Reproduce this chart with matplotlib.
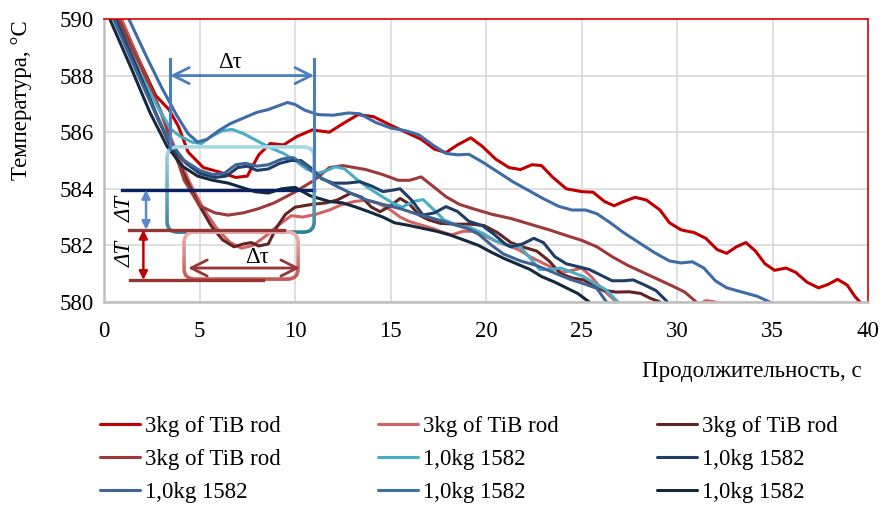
import matplotlib.pyplot as plt
from matplotlib.patches import FancyBboxPatch, Rectangle
import matplotlib.colors as mcolors
import numpy as np

plt.rcParams['font.family'] = ['Liberation Serif', 'DejaVu Serif']
plt.rcParams['font.size'] = 16.5

# --- data (time, s ; temperature, °C) ---
t1 = [0.9, 1.8, 2.7, 3.4, 3.9, 4.4, 5.2, 6.0, 6.9, 7.5, 8.1, 8.7, 9.4, 10.1, 10.9, 11.8, 12.5, 13.3, 14.1,
      15.0, 15.8, 16.6, 17.3, 17.9, 18.5, 19.2, 19.8, 20.5, 21.2, 21.8, 22.4, 22.9, 23.5, 24.2, 25.0, 25.6,
      26.2, 26.7, 27.2, 27.8, 28.4, 29.1, 29.6, 30.2, 30.9, 31.5, 32.1, 32.6, 33.1, 33.6, 34.1, 34.6, 35.1,
      35.7, 36.2, 36.8, 37.4, 37.9, 38.4, 38.9, 39.3, 39.7]
T1 = [590, 588.6, 587.3, 586.8, 586.2, 585.3, 584.75, 584.6, 584.4, 584.45, 585.2, 585.6, 585.55, 585.85,
      586.08, 586.0, 586.3, 586.62, 586.55, 586.25, 586.0, 585.75, 585.4, 585.28, 585.55, 585.8, 585.5,
      585.05, 584.75, 584.68, 584.85, 584.82, 584.4, 584.0, 583.9, 583.88, 583.55, 583.4, 583.55, 583.7,
      583.6, 583.25, 582.8, 582.55, 582.45, 582.25, 581.85, 581.72, 581.95, 582.1, 581.8, 581.35, 581.12,
      581.2, 581.05, 580.7, 580.5, 580.62, 580.8, 580.6, 580.2, 579.9]

t2 = [0.9, 1.9, 2.9, 3.8, 4.5, 5.2, 5.9, 6.6, 7.2, 7.8, 8.5, 9.2, 9.8, 10.4, 11.1, 11.8, 12.4, 13.1, 13.75,
      14.3, 14.9, 15.5, 16.0, 16.6, 17.2, 17.8, 18.2, 18.8, 19.3, 19.9, 20.5, 21.1, 21.7, 22.3, 22.9, 23.5,
      24.0, 24.6, 25.0, 25.5, 26.0, 26.5, 27.0, 28.0, 29.5, 30.8, 31.5, 32.0, 32.6]
T2 = [590, 588.4, 586.8, 585.3, 584.2, 583.3, 582.6, 582.1, 581.9, 582.0, 582.35, 582.75, 583.05, 583.0,
      583.1, 583.25, 583.43, 583.55, 583.6, 583.5, 583.3, 583.0, 582.84, 582.72, 582.6, 582.45, 582.37,
      582.5, 582.5, 582.35, 582.15, 582.0, 581.85, 581.6, 581.4, 581.2, 581.05, 581.13, 581.2, 580.9,
      580.5, 580.2, 579.9, 579.7, 579.6, 579.75, 580.05, 580.0, 579.7]

t3 = [0.7, 1.8, 2.8, 3.7, 4.4, 5.0, 5.6, 6.2, 6.8, 7.3, 7.7, 8.1, 8.6, 9.0, 9.5, 10.0, 10.9, 11.6, 12.2,
      12.9, 13.5, 14.0, 14.45, 15.0, 15.5, 16.0, 16.5, 17.0, 17.6, 18.4, 19.2, 19.9, 20.6, 21.3, 21.9,
      22.65, 23.3, 23.9, 24.5, 25.1, 25.6, 26.1, 26.8, 27.5, 28.1, 28.6, 29.1]
T3 = [590, 588.2, 586.5, 585.2, 584.2, 583.4, 582.7, 582.2, 581.95, 582.05, 582.1, 581.98, 582.05, 582.6,
      583.1, 583.35, 583.45, 583.5, 583.6, 583.84, 583.7, 583.35, 583.19, 583.4, 583.66, 583.45, 583.07,
      582.9, 582.78, 582.75, 582.75, 582.7, 582.45, 582.1, 581.95, 581.8, 581.45, 581.0, 580.85, 580.78,
      580.6, 580.42, 580.35, 580.36, 580.3, 580.13, 580.0]

t4 = [0.8, 2.0, 3.0, 4.2, 5.0, 5.8, 6.5, 7.3, 8.1, 8.9, 9.9, 11.0, 11.8, 12.5, 13.7, 14.6, 15.4, 16.0, 16.6,
      17.2, 17.9, 18.6, 19.3, 20.3, 21.3, 22.3, 23.3, 24.2, 25.0, 25.8, 26.6, 27.4, 28.2, 29.0, 29.8, 30.4, 31.0]
T4 = [590, 588.2, 586.7, 584.3, 583.4, 583.15, 583.07, 583.15, 583.3, 583.5, 583.85, 584.3, 584.75, 584.82,
      584.68, 584.5, 584.3, 584.3, 584.42, 584.1, 583.72, 583.45, 583.3, 583.1, 582.95, 582.75, 582.55,
      582.35, 582.18, 581.95, 581.6, 581.3, 581.05, 580.8, 580.55, 580.35, 580.0]

t5 = [0.6, 1.8, 2.8, 3.5, 4.0, 4.6, 5.1, 5.6, 6.2, 6.7, 7.3, 8.0, 8.7, 9.4, 10.0, 10.6, 11.2, 11.7, 12.1,
      12.6, 13.2, 13.8, 14.5, 15.1, 15.6, 16.2, 16.7, 17.2, 17.8, 18.5, 19.2, 19.9, 20.5, 21.2, 21.8, 22.3,
      22.8, 23.4, 23.9, 24.5, 25.1, 25.7, 26.3, 26.9]
T5 = [590, 588.2, 586.9, 586.1, 585.85, 585.65, 585.6, 585.85, 586.05, 586.1, 585.95, 585.7, 585.45,
      585.25, 585.0, 584.7, 584.55, 584.65, 584.78, 584.7, 584.35, 584.05, 583.75, 583.5, 583.35, 583.55,
      583.62, 583.3, 582.9, 582.7, 582.62, 582.4, 582.15, 582.0, 581.95, 581.55, 581.15, 581.15, 581.2,
      581.05, 580.9, 580.65, 580.42, 580.0]

t6 = [0.6, 1.7, 2.7, 3.5, 4.3, 5.0, 5.8, 6.4, 7.0, 7.5, 8.0, 8.6, 9.2, 9.8, 10.3, 10.8, 11.4, 12.0, 12.7,
      13.4, 14.0, 14.6, 15.1, 15.5, 16.1, 16.7, 17.3, 17.9, 18.5, 19.1, 19.8, 20.4, 21.0, 21.3, 21.9, 22.5,
      23.0, 23.6, 24.2, 24.8, 25.4, 26.0, 26.6, 27.2, 27.7, 28.3, 28.9, 29.5]
T6 = [590, 588.3, 586.7, 585.5, 584.9, 584.55, 584.4, 584.45, 584.75, 584.8, 584.65, 584.7, 584.9, 585.0,
      585.0, 584.75, 584.35, 584.2, 584.2, 584.25, 584.1, 583.9, 583.95, 584.0, 583.6, 583.07, 583.15,
      583.37, 583.2, 582.85, 582.7, 582.4, 582.05, 581.95, 582.05, 582.25, 582.1, 581.6, 581.35, 581.25,
      581.15, 580.95, 580.75, 580.75, 580.78, 580.6, 580.4, 580.0]

t7 = [0.5, 1.6, 2.6, 3.4, 4.2, 5.0, 5.7, 6.3, 6.9, 7.4, 8.0, 8.6, 9.3, 9.9, 10.5, 11.2, 12.0, 12.9, 13.75,
      14.6, 15.5, 16.4, 17.2, 18.1, 19.0, 19.6, 20.3, 20.9, 21.8, 22.6, 23.5, 24.4, 25.1, 25.8, 26.3]
T7 = [590, 588.3, 586.8, 585.7, 585.0, 584.65, 584.5, 584.55, 584.85, 584.9, 584.8, 584.85, 585.05, 585.1,
      584.85, 584.45, 584.15, 583.85, 583.6, 583.45, 583.3, 583.1, 582.96, 582.78, 582.6, 582.4, 582.0,
      581.7, 581.45, 581.3, 581.05, 580.8, 580.65, 580.48, 580.0]

t8 = [1.3, 2.2, 3.0, 3.8, 4.4, 4.9, 5.4, 6.0, 6.6, 7.3, 8.0, 8.6, 9.2, 9.6, 10.0, 10.5, 11.2, 12.0, 12.8,
      13.4, 14.2, 15.0, 15.8, 16.5, 17.2, 17.9, 18.5, 19.1, 19.8, 20.6, 21.4, 22.2, 23.0, 23.8, 24.5, 25.2,
      25.8, 26.5, 27.2, 28.0, 28.8, 29.6, 30.2, 30.8, 31.4, 32.0, 32.6, 33.4, 34.2, 35.0]
T8 = [590, 588.7, 587.6, 586.6, 585.95, 585.65, 585.75, 586.05, 586.3, 586.5, 586.7, 586.8, 586.95, 587.05,
      586.98, 586.78, 586.62, 586.6, 586.68, 586.65, 586.35, 586.15, 586.05, 585.9, 585.55, 585.25, 585.2,
      585.22, 584.95, 584.6, 584.25, 583.95, 583.65, 583.38, 583.25, 583.25, 583.12, 582.8, 582.45, 582.1,
      581.75, 581.45, 581.38, 581.42, 581.2, 580.75, 580.5, 580.35, 580.2, 579.95]

t9 = [0.3, 1.4, 2.4, 3.3, 4.1, 4.9, 5.7, 6.5, 7.2, 7.9, 8.6, 9.3, 10.0, 10.8, 11.8, 12.5, 13.2, 13.9, 14.6,
      15.2, 16.0, 16.7, 17.4, 18.1, 18.8, 19.6, 20.3, 20.9, 21.6, 22.3, 22.9, 23.6, 24.2, 24.8, 25.4]
T9 = [590, 588.3, 586.7, 585.5, 584.8, 584.45, 584.3, 584.2, 584.05, 583.9, 583.85, 584.0, 584.05, 583.75,
      583.55, 583.5, 583.35, 583.18, 583.0, 582.8, 582.7, 582.6, 582.5, 582.37, 582.2, 582.0, 581.75,
      581.55, 581.35, 581.15, 580.9, 580.7, 580.5, 580.3, 580.0]

labels = ["3kg of TiB rod"] * 4 + ["1,0kg 1582"] * 5
colors = ['#C00000', '#D46262', '#632523', '#9B3B39', '#4BACC6',
          '#1F3D66', '#3C6494', '#3E6CA6', '#142840']
series = [(t1, T1), (t2, T2), (t3, T3), (t4, T4), (t5, T5),
          (t6, T6), (t7, T7), (t8, T8), (t9, T9)]

fig = plt.figure(figsize=(8.83, 5.05), dpi=100)
ax = fig.add_axes([0.1178, 0.402, 0.8654, 0.5604])

handles = []
for (tx, ty), c, lab in zip(series, colors, labels):
    h, = ax.plot(tx, ty, color=c, lw=2.2, label=lab, solid_joinstyle='round', solid_capstyle='round')
    handles.append(h)

ax.set_xlim(0, 40)
ax.set_ylim(580, 590)
ax.set_xticks(range(0, 41, 5))
ax.set_yticks(range(580, 591, 2))
ax.grid(True, color='#D9D9D9', lw=1.2)
ax.set_axisbelow(True)
ax.tick_params(length=0)
ax.tick_params(axis='x', pad=14)
ax.tick_params(axis='y', pad=7)
for s in ['left', 'bottom']:
    ax.spines[s].set_color('#BFBFBF')
    ax.spines[s].set_linewidth(1.8)
for s in ['top', 'right']:
    ax.spines[s].set_color('#E00000')
    ax.spines[s].set_linewidth(1.2)


def grad_box(x0, y0, w, h, c_top, c_bot, n=12):
    # rounded box whose outline fades from c_top to c_bot
    ct = np.array(mcolors.to_rgb(c_top))
    cb = np.array(mcolors.to_rgb(c_bot))
    for i in range(n):
        f = i / (n - 1)
        col = ct * (1 - f) + cb * f
        p = FancyBboxPatch((x0, y0), w, h, boxstyle='round,pad=0,rounding_size=0.55',
                           mutation_aspect=0.675, fc='none', ec=col, lw=2.6, zorder=6)
        ax.add_patch(p)
        band_h = (h + 0.4) / n
        top = y0 + h + 0.2 - i * band_h
        clip = Rectangle((x0 - 1, top - band_h), w + 2, band_h, transform=ax.transData)
        p.set_clip_path(clip)


# light blue box and light red box
grad_box(3.3, 582.47, 7.7, 3.01, '#A5D8E6', '#2F8096')
grad_box(4.19, 580.81, 5.97, 1.66, '#F0BAB8', '#C0504D')

# horizontal reference lines
ax.plot([0.94, 11.0], [583.96, 583.96], color='#0A2060', lw=2.4, zorder=7)
ax.plot([1.3, 9.4], [582.55, 582.55], color='#943634', lw=2.4, zorder=7)
ax.plot([1.36, 8.3], [580.78, 580.78], color='#943634', lw=2.4, zorder=7)

# top Δτ
ax.plot([3.46, 3.46], [585.4, 588.6], color='#4A7EC1', lw=2.2, zorder=7)
ax.plot([11.0, 11.0], [583.96, 588.6], color='#4A7EC1', lw=2.2, zorder=7)
ax.annotate('', xy=(3.46, 588.0), xytext=(11.0, 588.0), zorder=7,
            arrowprops=dict(arrowstyle='<->,head_length=0.7,head_width=0.35',
                            color='#4A7EC1', lw=2.0, shrinkA=0, shrinkB=0))
ax.text(6.6, 588.45, 'Δτ', ha='center', va='center', zorder=8)

# bottom Δτ
ax.annotate('', xy=(4.4, 581.2), xytext=(10.26, 581.2), zorder=7,
            arrowprops=dict(arrowstyle='<->,head_length=0.7,head_width=0.35',
                            color='#943634', lw=2.0, shrinkA=0, shrinkB=0))
ax.text(8.0, 581.58, 'Δτ', ha='center', va='center', zorder=8)

# ΔT arrows
ax.annotate('', xy=(2.2, 583.96), xytext=(2.2, 582.55), zorder=7,
            arrowprops=dict(arrowstyle='<|-|>,head_length=0.3,head_width=0.15',
                            color='#5B8CC9', lw=1.8, shrinkA=0, shrinkB=0))
ax.annotate('', xy=(2.06, 582.55), xytext=(2.06, 580.78), zorder=7,
            arrowprops=dict(arrowstyle='<|-|>,head_length=0.3,head_width=0.15',
                            color='#C00000', lw=1.8, shrinkA=0, shrinkB=0))
ax.text(1.1, 583.3, 'ΔT', rotation=90, ha='center', va='center', style='italic', zorder=8)
ax.text(1.1, 581.7, 'ΔT', rotation=90, ha='center', va='center', style='italic', zorder=8)

fig.text(22 / 883, 1 - 100 / 505, 'Температура, °С', rotation=90, ha='center', va='center')
fig.text(862 / 883, 1 - 372 / 505, 'Продолжительность, с', ha='right', va='center')

order = [0, 3, 6, 1, 4, 7, 2, 5, 8]
fig.legend([handles[i] for i in order], [labels[i] for i in order], ncol=3,
           loc='upper left', bbox_to_anchor=(100 / 883, 1 - 416 / 505), frameon=False,
           handlelength=1.75, handletextpad=0.22, columnspacing=4.25, labelspacing=0.53,
           borderpad=0, borderaxespad=0)

fig.savefig('out.png', dpi=100)
